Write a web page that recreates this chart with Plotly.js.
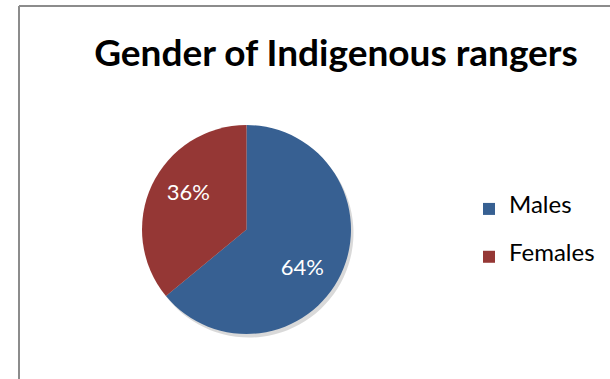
<!DOCTYPE html>
<html>
<head>
<meta charset="utf-8">
<script src="https://cdn.plot.ly/plotly-3.0.1.min.js"></script>
<style>
  html, body { margin: 0; padding: 0; background: #fff; }
  #chart { width: 610px; height: 379px; }
</style>
</head>
<body>
<div id="chart"></div>
<script>
const categories = ["Males", "Females"];
const shares = [64, 36];
const sliceColors = ["#376092", "#953735"];
const chartTitle = "Gender of Indigenous rangers";

const W = 610, H = 379;
const cx = 246.5, cy = 229.5, r = 104.5;
function dom(dx, dy) {
  return {
    x: [(cx - r + dx) / W, (cx + r + dx) / W],
    y: [1 - (cy + r + dy) / H, 1 - (cy - r + dy) / H]
  };
}

const legendLabels = categories.map(c => " <br><span style='font-size:24px'>" + c + "</span><br> ");

const shadow = {
  type: "pie",
  values: shares,
  labels: categories.map(c => c + " shadow"),
  sort: false,
  direction: "clockwise",
  rotation: 0,
  domain: dom(2.5, 3.5),
  marker: { colors: ["rgba(0,0,0,0.15)", "rgba(0,0,0,0.15)"], line: { width: 0 } },
  textinfo: "none",
  hoverinfo: "skip",
  showlegend: false
};

const main = {
  type: "pie",
  values: shares,
  labels: legendLabels,
  sort: false,
  direction: "clockwise",
  rotation: 0,
  domain: dom(0, 0),
  marker: { colors: sliceColors, line: { width: 0 } },
  textinfo: "percent",
  texttemplate: [" <br>   %{percent:.0%}", "%{percent:.0%}   <br> "],
  textposition: "inside",
  insidetextorientation: "horizontal",
  textfont: { family: "Lato, 'Open Sans', sans-serif", size: 22, color: "#ffffff" },
  hoverinfo: "none",
  showlegend: true
};

const layout = {
  width: W,
  height: H,
  margin: { l: 0, r: 0, t: 0, b: 0 },
  paper_bgcolor: "#ffffff",
  plot_bgcolor: "#ffffff",
  font: { family: "Lato, 'Open Sans', sans-serif", color: "#000000" },
  title: {
    text: "<b>" + chartTitle + "</b>",
    font: { family: "Lato, 'Open Sans', sans-serif", size: 37, color: "#000000" },
    x: 336 / W,
    xanchor: "center",
    xref: "container",
    y: 1 - 53 / H,
    yanchor: "middle",
    yref: "container"
  },
  legend: {
    x: 469 / W,
    xanchor: "left",
    y: 1 - 180 / H,
    yanchor: "top",
    font: { family: "Lato, 'Open Sans', sans-serif", size: 11.5, color: "#000000" },
    bgcolor: "rgba(0,0,0,0)",
    borderwidth: 0
  },
  shapes: [
    { type: "line", xref: "paper", yref: "paper", x0: 19 / W, x1: 19 / W, y0: -0.05, y1: 1 - 6 / H,
      line: { color: "#8c8c8c", width: 2 } },
    { type: "line", xref: "paper", yref: "paper", x0: 19 / W, x1: 1.05, y0: 1 - 6 / H, y1: 1 - 6 / H,
      line: { color: "#8c8c8c", width: 2 } }
  ]
};

Plotly.newPlot("chart", [shadow, main], layout, { staticPlot: true, displayModeBar: false });
</script>
</body>
</html>
